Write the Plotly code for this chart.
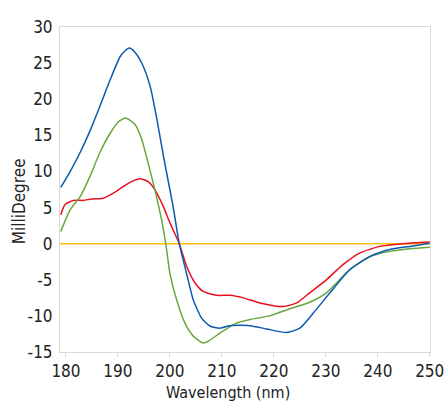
import plotly.graph_objects as go

# Wavelength grid (nm) for each spectrum and measured ellipticity (mdeg)
blue_wl = [179.0, 180.8, 182.7, 184.6, 186.5, 188.5, 190.4, 191.5, 192.2, 193.3, 194.6, 196.2, 197.4,
           199.0, 200.6, 201.8, 203.2, 204.5, 206.1, 207.7, 209.6, 211.5, 213.5, 215.4, 218.6,
           222.4, 225.0, 227.6, 230.8, 234.6, 238.5, 242.3, 246.2, 250.0]
blue_md = [7.8, 10.0, 12.6, 15.6, 19.0, 22.7, 25.9, 26.8, 27.1, 26.5, 25.0, 21.8, 17.6,
           11.2, 5.2, 0.0, -4.1, -7.8, -10.3, -11.4, -11.7, -11.35, -11.3, -11.35, -11.8,
           -12.3, -11.7, -9.6, -6.8, -3.6, -1.76, -0.8, -0.37, 0.05]

green_wl = [179.0, 180.8, 182.7, 184.6, 186.5, 188.5, 190.1, 191.5, 193.3, 194.6, 195.8, 197.1,
            198.4, 199.2, 200.0, 201.3, 202.9, 204.5, 206.4, 207.4, 209.6, 212.8, 215.4, 219.2,
            223.1, 226.9, 230.1, 234.6, 238.5, 242.3, 246.2, 250.0]
green_md = [1.7, 4.7, 6.5, 9.3, 12.6, 15.3, 16.9, 17.4, 16.5, 14.4, 11.2, 7.5,
            3.3, 0.0, -4.1, -7.8, -11.0, -12.8, -13.75, -13.5, -12.4, -11.0, -10.5, -10.0,
            -9.0, -8.1, -6.8, -3.6, -1.8, -1.06, -0.7, -0.5]

red_wl = [179.0, 179.8, 181.4, 183.3, 185.0, 187.2, 189.1, 191.0, 192.6, 194.2, 195.8,
          197.1, 198.7, 200.0, 201.8, 203.2, 204.8, 206.4, 209.0, 211.5, 214.1, 217.3, 221.8,
          224.4, 226.9, 230.1, 233.3, 236.5, 240.4, 244.8, 250.0]
red_md = [4.0, 5.4, 6.0, 6.0, 6.2, 6.3, 7.0, 7.9, 8.6, 9.0, 8.6,
          7.5, 5.2, 2.9, 0.0, -3.1, -5.4, -6.6, -7.15, -7.15, -7.5, -8.2, -8.7,
          -8.2, -6.8, -5.0, -2.9, -1.3, -0.37, 0.0, 0.23]

baseline_wl = [178.85, 250.0]
baseline_md = [0, 0]

x_ticks = [180, 190, 200, 210, 220, 230, 240, 250]
y_ticks = [-15, -10, -5, 0, 5, 10, 15, 20, 25, 30]
y_tick_text = ["-15", "-10", "-5", "0", "5", "10", "15", "20", "25", "30"]

FONT = "DejaVu Sans Condensed, Liberation Sans Narrow, sans-serif"

fig = go.Figure()
fig.add_trace(go.Scatter(x=baseline_wl, y=baseline_md, mode="lines",
                         line=dict(color="#ffc000", width=1.5), showlegend=False))
fig.add_trace(go.Scatter(x=red_wl, y=red_md, mode="lines",
                         line=dict(color="#e8101e", width=1.5, shape="spline", smoothing=0.6),
                         showlegend=False))
fig.add_trace(go.Scatter(x=green_wl, y=green_md, mode="lines",
                         line=dict(color="#6aa63c", width=1.5, shape="spline", smoothing=0.6),
                         showlegend=False))
fig.add_trace(go.Scatter(x=blue_wl, y=blue_md, mode="lines",
                         line=dict(color="#0a5ab0", width=1.5, shape="spline", smoothing=0.6),
                         showlegend=False))

fig.update_layout(
    width=444, height=403,
    margin=dict(l=60, r=14, t=27, b=51),
    paper_bgcolor="white", plot_bgcolor="white",
    font=dict(family=FONT, size=17, color="#222222"),
    xaxis=dict(range=[178.85, 250.05], tickvals=x_ticks, showgrid=False, zeroline=False,
               showline=True, mirror=True, linecolor="#d9d9d9", linewidth=1,
               ticks="outside", ticklen=4, tickcolor="#d9d9d9", ticklabeloverflow="allow",
               automargin=False),
    yaxis=dict(range=[-15, 30.02], tickvals=y_ticks, ticktext=y_tick_text,
               showgrid=False, zeroline=False,
               showline=True, mirror=True, linecolor="#d9d9d9", linewidth=1,
               ticks="", ticklabelstandoff=3, automargin=False),
    annotations=[
        dict(text="Wavelength (nm)", xref="paper", yref="paper", x=(228 - 60) / 370,
             y=-(381 - 352) / 325, xanchor="center", yanchor="top", showarrow=False,
             font=dict(size=16)),
        dict(text="MilliDegree", xref="paper", yref="paper", x=-0.11, y=(352 - 201) / 325,
             xanchor="center", yanchor="middle", textangle=-90, showarrow=False,
             font=dict(size=17)),
    ],
)

fig.write_html("out.html")
